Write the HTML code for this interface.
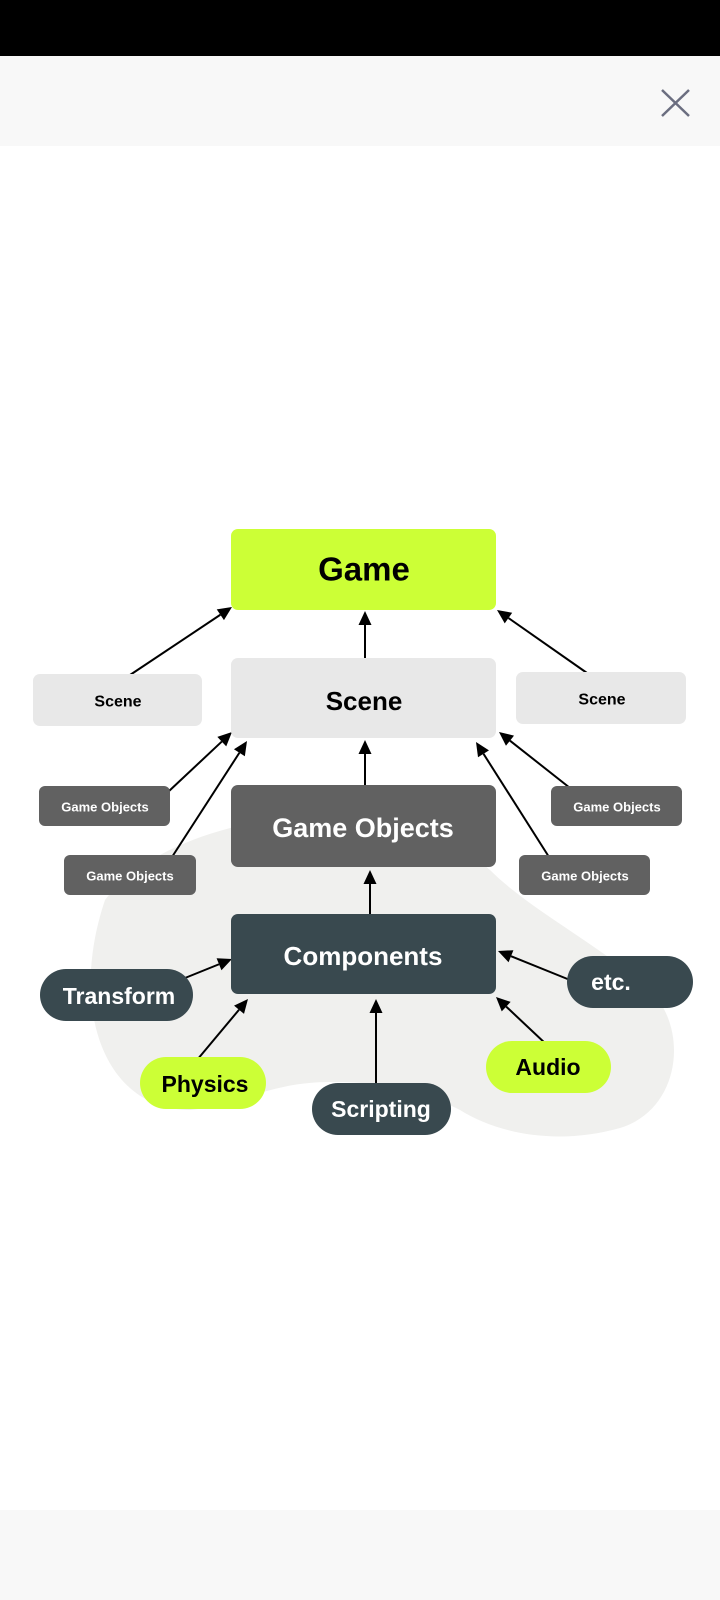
<!DOCTYPE html>
<html><head><meta charset="utf-8"><style>
html,body{margin:0;padding:0;width:720px;height:1600px;background:#fff;overflow:hidden}
svg{display:block}
text{font-family:"Liberation Sans",sans-serif;font-weight:bold;text-anchor:middle;dominant-baseline:central}
</style></head><body>
<svg id="s" width="720" height="1600" viewBox="0 0 720 1600" xmlns="http://www.w3.org/2000/svg">
<rect x="0" y="0" width="720" height="56" fill="#000"/>
<rect x="0" y="56" width="720" height="90" fill="#f8f8f8"/>
<path d="M662 90 L689 116 M689 90 L662 116" stroke="#6b6e80" stroke-width="2.5"/>
<rect x="0" y="1510" width="720" height="90" fill="#f8f8f8"/>
<path d="M105 900 C155 835 270 812 360 812 C430 812 455 840 490 870 C530 910 600 945 650 990 C690 1030 680 1110 620 1128 C560 1145 500 1135 460 1110 C420 1090 390 1082 330 1082 C270 1082 240 1105 190 1110 C105 1110 68 1010 105 900 Z" fill="#f0f0ee"/>
<g id="arrows"></g>
<rect x="231" y="529" width="265" height="81" rx="7" fill="#ccff36"/>
<text x="364" y="569" font-size="33" fill="#000">Game</text>
<rect x="231" y="658" width="265" height="80" rx="7" fill="#e8e8e8"/>
<text x="364" y="701" font-size="26" fill="#000">Scene</text>
<rect x="33" y="674" width="169" height="52" rx="7" fill="#e8e8e8"/>
<text x="118" y="702" font-size="16" fill="#000">Scene</text>
<rect x="516" y="672" width="170" height="52" rx="7" fill="#e8e8e8"/>
<text x="602" y="700" font-size="16" fill="#000">Scene</text>
<rect x="231" y="785" width="265" height="82" rx="7" fill="#616161"/>
<text x="363" y="828" font-size="27" fill="#fff">Game Objects</text>
<g fill="#616161">
<rect x="39" y="786" width="131" height="40" rx="6"/>
<rect x="64" y="855" width="132" height="40" rx="6"/>
<rect x="551" y="786" width="131" height="40" rx="6"/>
<rect x="519" y="855" width="131" height="40" rx="6"/>
</g>
<g font-size="13" fill="#fff">
<text x="105" y="807">Game Objects</text>
<text x="130" y="876">Game Objects</text>
<text x="617" y="807">Game Objects</text>
<text x="585" y="876">Game Objects</text>
</g>
<rect x="231" y="914" width="265" height="80" rx="7" fill="#39494f"/>
<text x="363" y="956" font-size="26" fill="#fff">Components</text>
<rect x="40" y="969" width="153" height="52" rx="26" fill="#39494f"/>
<text x="119" y="996" font-size="23" fill="#fff">Transform</text>
<rect x="567" y="956" width="126" height="52" rx="26" fill="#39494f"/>
<text x="611" y="982" font-size="23" fill="#fff">etc.</text>
<rect x="140" y="1057" width="126" height="52" rx="26" fill="#ccff36"/>
<text x="205" y="1084" font-size="23" fill="#000">Physics</text>
<rect x="312" y="1083" width="139" height="52" rx="26" fill="#39494f"/>
<text x="381" y="1109" font-size="23" fill="#fff">Scripting</text>
<rect x="486" y="1041" width="125" height="52" rx="26" fill="#ccff36"/>
<text x="548" y="1067" font-size="23" fill="#000">Audio</text>
</svg>
<script>
var L=[[365,659,365,611],[130,675,232,607],[587,673,497,610],[365,786,365,740],[168,792,232,732],[172,857,247,741],[570,788,499,732],[549,857,476,742],[370,916,370,870],[185,978,232,959],[197,1060,248,999],[376,1086,376,999],[547,1045,496,997],[570,980,498,951]];
var g=document.getElementById('arrows'),h='';
L.forEach(function(a){var dx=a[2]-a[0],dy=a[3]-a[1],d=Math.hypot(dx,dy),ux=dx/d,uy=dy/d,len=14,w=6.5;
var bx=a[2]-ux*len,by=a[3]-uy*len;
h+='<line x1="'+a[0]+'" y1="'+a[1]+'" x2="'+bx+'" y2="'+by+'" stroke="#000" stroke-width="2"/>';
h+='<polygon fill="#000" points="'+a[2]+','+a[3]+' '+(bx-uy*w)+','+(by+ux*w)+' '+(bx+uy*w)+','+(by-ux*w)+'"/>';});
g.innerHTML=h;
</script>
</body></html>
